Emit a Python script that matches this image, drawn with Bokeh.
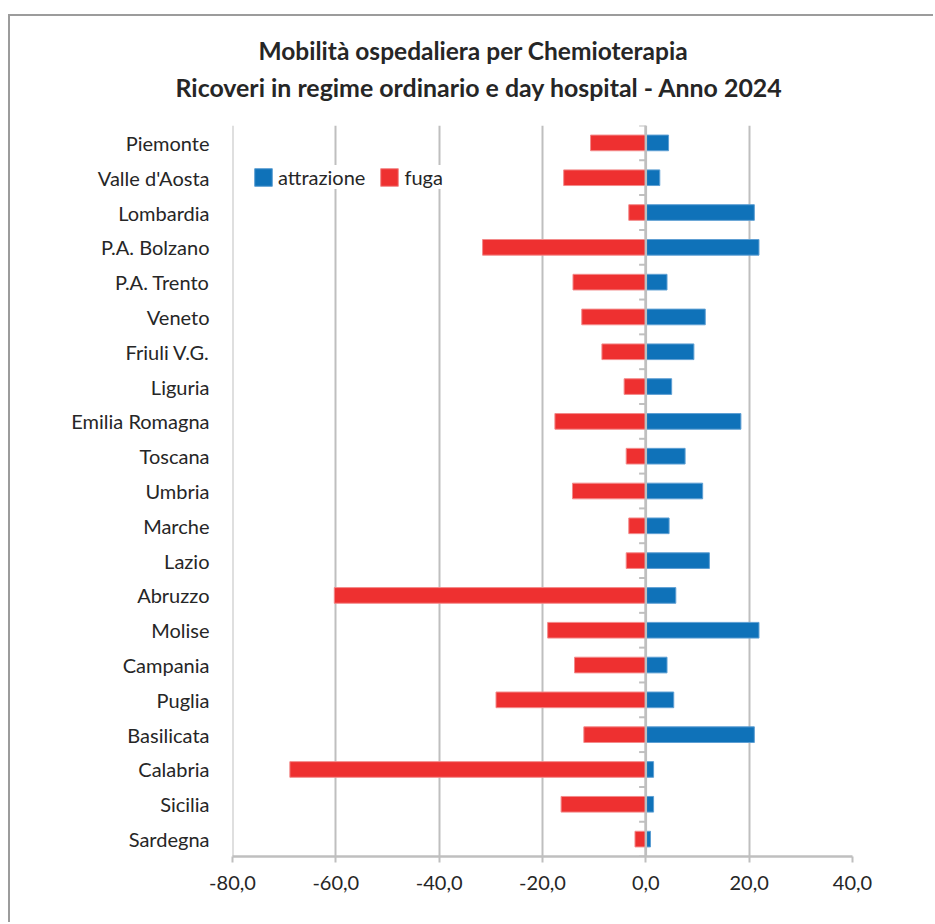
from bokeh.plotting import figure
from bokeh.models import (FactorRange, Range1d, FixedTicker, CustomJSTickFormatter,
                          Span, Title, Legend, LegendItem, ColumnDataSource)
from bokeh.embed import file_html
from bokeh.resources import INLINE

# Regioni (ordine dall'alto verso il basso)
regioni = ["Piemonte", "Valle d'Aosta", "Lombardia", "P.A. Bolzano", "P.A. Trento",
           "Veneto", "Friuli V.G.", "Liguria", "Emilia Romagna", "Toscana", "Umbria",
           "Marche", "Lazio", "Abruzzo", "Molise", "Campania", "Puglia", "Basilicata",
           "Calabria", "Sicilia", "Sardegna"]

# Indici di attrazione (positivi) e di fuga (negativi)
attrazione = [4.4, 2.7, 21.0, 21.9, 4.1, 11.5, 9.3, 5.0, 18.4, 7.6, 11.0,
              4.5, 12.3, 5.8, 21.9, 4.1, 5.4, 21.0, 1.5, 1.5, 0.9]
fuga = [-10.7, -15.9, -3.3, -31.6, -14.1, -12.4, -8.5, -4.2, -17.6, -3.8, -14.2,
        -3.3, -3.8, -60.3, -19.0, -13.8, -29.0, -12.0, -68.9, -16.4, -2.1]

x_ticks = [-80, -60, -40, -20, 0, 20, 40]

titolo = ["Mobilità ospedaliera per Chemioterapia",
          "Ricoveri in regime ordinario e day hospital - Anno 2024"]

FONT = "Lato"
TXT = "#262626"
GRID = "#BFBFBF"
BLU = "#0F72B9"
ROSSO = "#EE3030"

src = ColumnDataSource(dict(reg=regioni, att=attrazione, fug=fuga))

p = figure(width=925, height=908, output_backend="svg", toolbar_location=None,
           y_range=FactorRange(factors=list(reversed(regioni)), range_padding=0),
           x_range=Range1d(-80.001, 40),
           min_border_left=222, min_border_right=83, min_border_top=109,
           min_border_bottom=68,
           margin=(14, 0, 0, 8),
           styles={"border-left": "2px solid #9C9C9C", "border-top": "2px solid #9C9C9C"})
p.outline_line_color = None
p.background_fill_color = "white"
p.border_fill_color = "white"

# griglia verticale
p.xgrid.ticker = FixedTicker(ticks=x_ticks)
p.xgrid.grid_line_color = GRID
p.xgrid.grid_line_width = 2
p.ygrid.grid_line_color = None

# asse orizzontale
p.xaxis.ticker = FixedTicker(ticks=x_ticks)
p.xaxis.formatter = CustomJSTickFormatter(code="return tick.toFixed(1).replace('.', ',');")
p.xaxis.axis_line_color = GRID
p.xaxis.axis_line_width = 2.5
p.xaxis.major_tick_line_color = GRID
p.xaxis.major_tick_line_width = 2
p.xaxis.major_tick_out = 6
p.xaxis.major_tick_in = 0
p.xaxis.minor_tick_line_color = None
p.xaxis.major_label_text_font = FONT
p.xaxis.major_label_text_font_size = "20px"
p.xaxis.major_label_text_color = TXT
p.xaxis.major_label_standoff = 13

# asse delle regioni
p.yaxis.axis_line_color = None
p.yaxis.major_tick_line_color = None
p.yaxis.major_tick_out = 0
p.yaxis.major_tick_in = 0
p.yaxis.major_label_text_font = FONT
p.yaxis.major_label_text_font_size = "20px"
p.yaxis.major_label_text_color = TXT
p.yaxis.major_label_standoff = 23

r_att = p.hbar(y="reg", left=0, right="att", height=0.45, source=src,
               fill_color=BLU, line_color="#5E9FD3", line_width=1)
r_fug = p.hbar(y="reg", left=0, right="fug", height=0.45, source=src,
               fill_color=ROSSO, line_color="#F38A8A", line_width=1)

# linea dello zero con tacche tra le categorie
p.add_layout(Span(location=0, dimension="height", line_color=GRID, line_width=2.5))
bordi = [(r, 0.5) for r in regioni] + [(regioni[-1], -0.5)]
p.segment(x0=[0] * len(bordi), x1=[-1.3] * len(bordi), y0=bordi, y1=bordi,
          line_color=GRID, line_width=2)

legend = Legend(items=[LegendItem(label="attrazione", renderers=[r_att]),
                       LegendItem(label="fuga", renderers=[r_fug])],
                location=(20, 667), orientation="horizontal",
                glyph_width=22, glyph_height=22, label_standoff=4, spacing=13,
                padding=16, margin=0, border_line_color=None,
                background_fill_color="white", background_fill_alpha=1.0,
                label_text_font=FONT, label_text_font_size="20px",
                label_text_color=TXT)
p.add_layout(legend, "center")

# titolo su due righe: spaziatore, seconda riga, prima riga (dal basso)
p.add_layout(Title(text=" ", text_font_size="1px", standoff=15), "above")
p.add_layout(Title(text=titolo[1], align="left", offset=-57, vertical_align="middle",
                   text_font=FONT, text_font_style="bold", text_font_size="24.9px",
                   text_color=TXT, standoff=10), "above")
p.add_layout(Title(text=titolo[0], align="left", offset=26, vertical_align="middle",
                   text_font=FONT, text_font_style="bold", text_font_size="24.5px",
                   text_color=TXT, standoff=0), "above")

open("out.html", "w").write(file_html(p, INLINE))
